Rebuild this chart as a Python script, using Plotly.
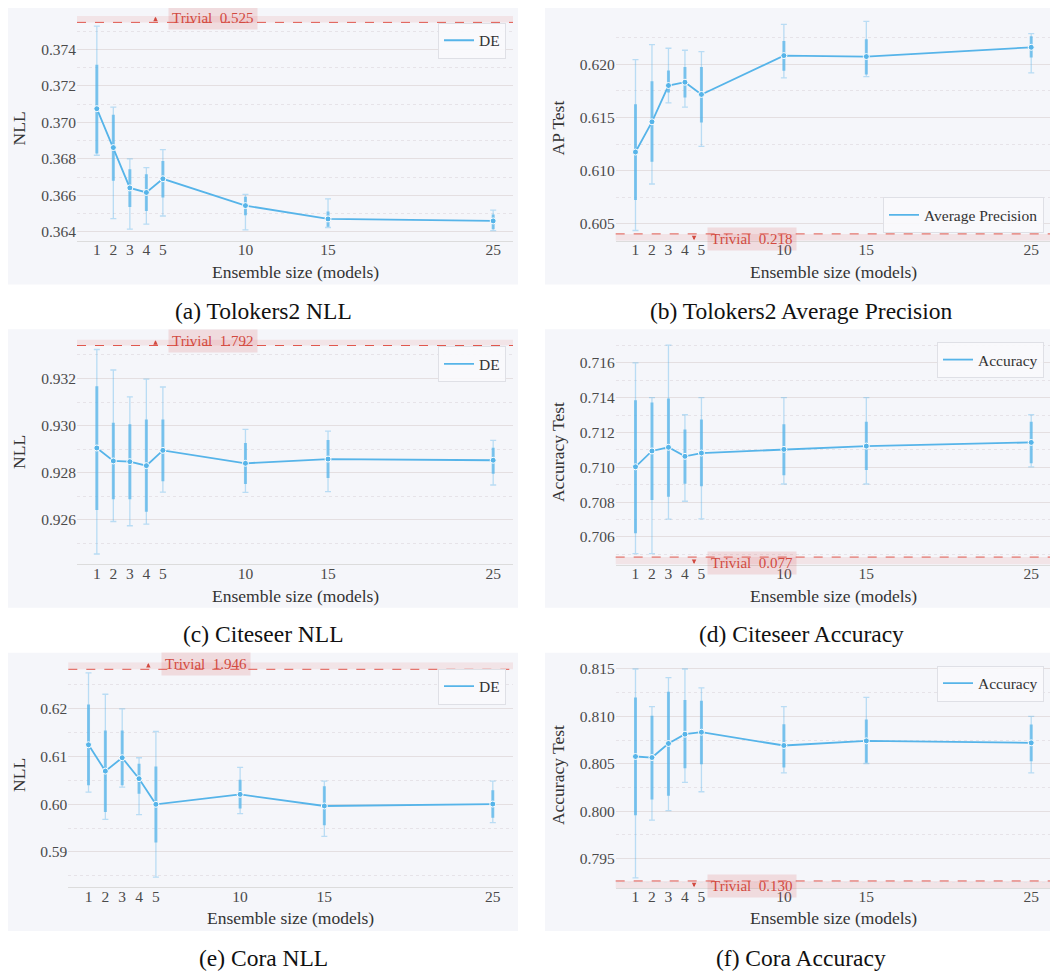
import plotly.graph_objects as go

# ---------------- data ----------------
sizes = [1, 2, 3, 4, 5, 10, 15, 25]
size_labels = ["1", "2", "3", "4", "5", "10", "15", "25"]

# (a) Tolokers2 NLL
a_mean = [0.37075, 0.36862, 0.36641, 0.36616, 0.36691, 0.36544, 0.36471, 0.36460]
a_thick_lo = [0.36829, 0.36680, 0.36537, 0.36514, 0.36588, 0.36491, 0.36428, 0.36415]
a_thick_hi = [0.37316, 0.37042, 0.36743, 0.36716, 0.36789, 0.36592, 0.36511, 0.36495]
a_whisk_lo = [0.36820, 0.36473, 0.36415, 0.36443, 0.36487, 0.36411, 0.36424, 0.36407]
a_whisk_hi = [0.37528, 0.37084, 0.36800, 0.36752, 0.36851, 0.36606, 0.36581, 0.36519]
a_yticks = [0.364, 0.366, 0.368, 0.370, 0.372, 0.374]

# (b) Tolokers2 Average Precision
b_mean = [0.61175, 0.61459, 0.61800, 0.61831, 0.61716, 0.62081, 0.62072, 0.62159]
b_thick_lo = [0.60725, 0.61084, 0.61734, 0.61688, 0.61453, 0.61938, 0.61903, 0.62063]
b_thick_hi = [0.61625, 0.61841, 0.61941, 0.61975, 0.61975, 0.62219, 0.62234, 0.62263]
b_whisk_lo = [0.60438, 0.60875, 0.61637, 0.61597, 0.61228, 0.61872, 0.61884, 0.61919]
b_whisk_hi = [0.62044, 0.62184, 0.62150, 0.62131, 0.62119, 0.62375, 0.62403, 0.62288]
b_yticks = [0.605, 0.610, 0.615, 0.620]

# (c) Citeseer NLL
c_mean = [0.92905, 0.92850, 0.92847, 0.92830, 0.92895, 0.92840, 0.92858, 0.92853]
c_thick_lo = [0.92642, 0.92688, 0.92688, 0.92634, 0.92764, 0.92752, 0.92778, 0.92796]
c_thick_hi = [0.93167, 0.93012, 0.93006, 0.93026, 0.93026, 0.92926, 0.92939, 0.92906]
c_whisk_lo = [0.92455, 0.92593, 0.92575, 0.92582, 0.92718, 0.92717, 0.92720, 0.92748]
c_whisk_hi = [0.93323, 0.93236, 0.93122, 0.93197, 0.93164, 0.92984, 0.92977, 0.92937]
c_yticks = [0.926, 0.928, 0.930, 0.932]

# (d) Citeseer Accuracy
d_mean = [0.71003, 0.71094, 0.71115, 0.71063, 0.71082, 0.71103, 0.71122, 0.71143]
d_thick_lo = [0.70621, 0.70812, 0.70831, 0.70906, 0.70891, 0.70954, 0.70985, 0.71023]
d_thick_hi = [0.71386, 0.71373, 0.71396, 0.71218, 0.71275, 0.71248, 0.71262, 0.71262]
d_whisk_lo = [0.70504, 0.70504, 0.70702, 0.70805, 0.70704, 0.70904, 0.70904, 0.71003]
d_whisk_hi = [0.71600, 0.71401, 0.71702, 0.71302, 0.71401, 0.71401, 0.71401, 0.71302]
d_yticks = [0.706, 0.708, 0.710, 0.712, 0.714, 0.716]

# (e) Cora NLL
e_mean = [0.61246, 0.60694, 0.60974, 0.60535, 0.59997, 0.60206, 0.59962, 0.60003]
e_thick_lo = [0.60395, 0.59836, 0.60395, 0.60221, 0.59195, 0.59907, 0.59558, 0.59718]
e_thick_hi = [0.62090, 0.61546, 0.61546, 0.60849, 0.60792, 0.60514, 0.60374, 0.60290]
e_whisk_lo = [0.60255, 0.59683, 0.60359, 0.59781, 0.58469, 0.59802, 0.59327, 0.59614]
e_whisk_hi = [0.62753, 0.62306, 0.62000, 0.60974, 0.61525, 0.60771, 0.60485, 0.60485]
e_yticks = [0.59, 0.60, 0.61, 0.62]

# (f) Cora Accuracy
f_mean = [0.80577, 0.80566, 0.80714, 0.80812, 0.80833, 0.80693, 0.80742, 0.80721]
f_thick_lo = [0.79956, 0.80124, 0.80163, 0.80454, 0.80496, 0.80461, 0.80510, 0.80527]
f_thick_hi = [0.81198, 0.81008, 0.81261, 0.81174, 0.81166, 0.80917, 0.80966, 0.80914]
f_whisk_lo = [0.79296, 0.79905, 0.80005, 0.80303, 0.80205, 0.80405, 0.80503, 0.80405]
f_whisk_hi = [0.81500, 0.81103, 0.81408, 0.81500, 0.81300, 0.81103, 0.81201, 0.81001]
f_yticks = [0.795, 0.800, 0.805, 0.810, 0.815]

trivial_labels = ["Trivial  0.525", "Trivial  0.218", "Trivial  1.792",
                  "Trivial  0.077", "Trivial  1.946", "Trivial  0.130"]
captions = ["(a) Tolokers2 NLL", "(b) Tolokers2 Average Precision",
            "(c) Citeseer NLL", "(d) Citeseer Accuracy",
            "(e) Cora NLL", "(f) Cora Accuracy"]
y_titles = ["NLL", "AP Test", "NLL", "Accuracy Test", "NLL", "Accuracy Test"]
series_names = ["DE", "Average Precision", "DE", "Accuracy", "DE", "Accuracy"]
x_title = "Ensemble size (models)"

# ---------------- style / layout ----------------
# the page body has an 8px margin, so the figure is placed at (8, 8)
OFF = 8
W, H = 1058 - OFF, 975 - OFF
def fx(px):
    return (px - OFF) / W
def fy(py):
    return 1 - (py - OFF) / H

BLUE = "#56b4e9"
RED = "#d24a40"
PANEL_BG = "#f5f6fa"
GRID = "#e4dfe1"
MINOR_GRID = "#e6e3e8"
SERIF = "Liberation Serif"
TICK_FONT = dict(family=SERIF, size=15.5, color="#4a4a4a")
TITLE_FONT = dict(family=SERIF, size=17.5, color="#333333")

panels = [
    dict(mean=a_mean, tlo=a_thick_lo, thi=a_thick_hi, wlo=a_whisk_lo, whi=a_whisk_hi,
         yticks=a_yticks, fmt=".3f", minor=(0.363, 0.002),
         yr=[0.36351, 0.37583], dash=0.37548, top=True,
         px=(77, 513), py=(14, 239.3), bg=(8, 4, 518, 283),
         leg=dict(x=506, y=20.7, anchor="top"), ytx=19, cap=(263, 310), xt=269.3),
    dict(mean=b_mean, tlo=b_thick_lo, thi=b_thick_hi, wlo=b_whisk_lo, whi=b_whisk_hi,
         yticks=b_yticks, fmt=".3f", minor=(0.6025, 0.005),
         yr=[0.60341, 0.62453], dash=0.60406, top=False,
         px=(615.7, 1051), py=(14, 239.3), bg=(545, 4, 1060, 283),
         leg=dict(x=1044, y=231.7, anchor="bottom"), ytx=558, cap=(801, 310), xt=269.3),
    dict(mean=c_mean, tlo=c_thick_lo, thi=c_thick_hi, wlo=c_whisk_lo, whi=c_whisk_hi,
         yticks=c_yticks, fmt=".3f", minor=(0.925, 0.002),
         yr=[0.92412, 0.93365], dash=0.93340, top=True,
         px=(77, 513), py=(338.3, 563.3), bg=(8, 328, 518, 607),
         leg=dict(x=506, y=345, anchor="top"), ytx=19, cap=(263, 633), xt=594),
    dict(mean=d_mean, tlo=d_thick_lo, thi=d_thick_hi, wlo=d_whisk_lo, whi=d_whisk_hi,
         yticks=d_yticks, fmt=".3f", minor=(0.705, 0.002),
         yr=[0.70441, 0.71734], dash=0.70484, top=False,
         px=(615.7, 1051), py=(338.3, 563.7), bg=(545, 328, 1060, 607),
         leg=dict(x=1044, y=340.7, anchor="top"), ytx=558, cap=(801, 633), xt=594),
    dict(mean=e_mean, tlo=e_thick_lo, thi=e_thick_hi, wlo=e_whisk_lo, whi=e_whisk_hi,
         yticks=e_yticks, fmt=".2f", minor=(0.585, 0.01),
         yr=[0.58253, 0.62975], dash=0.62829, top=True,
         px=(68.3, 513), py=(661.7, 887.3), bg=(8, 652, 518, 931),
         leg=dict(x=506, y=668, anchor="top"), ytx=19, cap=(263, 958), xt=917),
    dict(mean=f_mean, tlo=f_thick_lo, thi=f_thick_hi, wlo=f_whisk_lo, whi=f_whisk_hi,
         yticks=f_yticks, fmt=".3f", minor=(0.7925, 0.005),
         yr=[0.79191, 0.81570], dash=0.79264, top=False,
         px=(615.7, 1051), py=(661.7, 887.7), bg=(545, 652, 1060, 931),
         leg=dict(x=1044, y=665, anchor="top"), ytx=558, cap=(801, 958), xt=917),
]

fig = go.Figure()
shapes = []
annotations = []
layout_axes = {}
legends = {}

for i, p in enumerate(panels):
    n = "" if i == 0 else str(i + 1)
    xa, ya = "x" + n, "y" + n
    legname = "legend" + n

    # panel background
    x0, y0, x1, y1 = p["bg"]
    shapes.append(dict(type="rect", xref="paper", yref="paper",
                       x0=fx(x0), x1=fx(x1), y0=fy(y1), y1=fy(y0),
                       fillcolor=PANEL_BG, line=dict(width=0), layer="below"))
    # trivial band + dashed line
    yedge = p["yr"][1] if p["top"] else p["yr"][0]
    shapes.append(dict(type="rect", xref=xa + " domain", yref=ya,
                       x0=0, x1=1, y0=p["dash"], y1=yedge,
                       fillcolor="rgba(220,70,70,0.10)", line=dict(width=0), layer="below"))
    shapes.append(dict(type="line", xref=xa + " domain", yref=ya,
                       x0=0, x1=1, y0=p["dash"], y1=p["dash"],
                       line=dict(color="#e0574d", width=1, dash="dash"), layer="above"))

    m = p["mean"]
    # whiskers
    fig.add_trace(go.Scatter(
        x=sizes, y=m, mode="markers", xaxis=xa, yaxis=ya,
        marker=dict(size=1, color="rgba(0,0,0,0)"), showlegend=False, hoverinfo="skip",
        error_y=dict(type="data", symmetric=False,
                     array=[h - v for h, v in zip(p["whi"], m)],
                     arrayminus=[v - l for l, v in zip(p["wlo"], m)],
                     color="rgba(86,180,233,0.38)", thickness=1.3, width=3)))
    # thick bars
    fig.add_trace(go.Scatter(
        x=sizes, y=m, mode="markers", xaxis=xa, yaxis=ya,
        marker=dict(size=1, color="rgba(0,0,0,0)"), showlegend=False, hoverinfo="skip",
        error_y=dict(type="data", symmetric=False,
                     array=[h - v for h, v in zip(p["thi"], m)],
                     arrayminus=[v - l for l, v in zip(p["tlo"], m)],
                     color="rgba(86,180,233,0.72)", thickness=3, width=0)))
    # mean line (legend shows the line only)
    fig.add_trace(go.Scatter(
        x=sizes, y=m, mode="lines", xaxis=xa, yaxis=ya, name=series_names[i],
        legend=legname, showlegend=True, hoverinfo="skip",
        line=dict(color=BLUE, width=1.8)))
    fig.add_trace(go.Scatter(
        x=sizes, y=m, mode="markers", xaxis=xa, yaxis=ya, name=series_names[i],
        showlegend=False,
        marker=dict(size=6, color=BLUE, line=dict(color="white", width=1))))

    # axes
    layout_axes["xaxis" + n] = dict(
        domain=[fx(p["px"][0]), fx(p["px"][1])], range=[-0.2, 26.2], anchor=ya,
        tickvals=sizes, ticktext=size_labels, showgrid=False, zeroline=False,
        showline=True, linecolor="#dcdcdc", linewidth=1, ticks="",
        ticklabelstandoff=-5,
        tickfont=TICK_FONT, fixedrange=True)
    layout_axes["yaxis" + n] = dict(
        domain=[fy(p["py"][1]), fy(p["py"][0])], range=p["yr"], anchor=xa,
        tickvals=p["yticks"], tickformat=p["fmt"], showgrid=True, gridcolor=GRID,
        gridwidth=1, zeroline=False, showline=False, ticks="",
        tickfont=TICK_FONT, fixedrange=True,
        minor=dict(tick0=p["minor"][0], dtick=p["minor"][1], showgrid=True,
                   gridcolor=MINOR_GRID, griddash="dot", gridwidth=1, ticks=""))

    # legend
    lg = p["leg"]
    legends[legname] = dict(
        x=fx(lg["x"]), y=fy(lg["y"]), xanchor="right", yanchor=lg["anchor"],
        xref="paper", yref="paper",
        bgcolor="rgba(250,250,252,0.9)", bordercolor="#dfe0e6", borderwidth=1,
        font=dict(family=SERIF, size=15.5, color="#333333"),
        itemwidth=30, tracegroupgap=0)

    # axis titles
    cy = (p["py"][0] + p["py"][1]) / 2
    annotations.append(dict(text=y_titles[i], xref="paper", yref="paper",
                            x=fx(p["ytx"]), y=fy(cy), showarrow=False, textangle=-90,
                            font=TITLE_FONT, xanchor="center", yanchor="middle"))
    cx = (p["px"][0] + p["px"][1]) / 2
    annotations.append(dict(text=x_title, xref="paper", yref="paper",
                            x=fx(cx), y=fy(p["xt"] + 1), showarrow=False,
                            font=TITLE_FONT, xanchor="center", yanchor="middle"))
    # caption
    annotations.append(dict(text=captions[i], xref="paper", yref="paper",
                            x=fx(p["cap"][0]), y=fy(p["cap"][1]), showarrow=False,
                            font=dict(family=SERIF, size=23.5, color="#111111"),
                            xanchor="center", yanchor="middle"))
    # trivial label
    ty = 0.992 if p["top"] else 0.008
    lx = 0.309 if i == 4 else 0.312
    annotations.append(dict(text=trivial_labels[i], xref=xa + " domain", yref=ya + " domain",
                            x=lx, y=ty, showarrow=False,
                            font=dict(family=SERIF, size=15, color=RED),
                            bgcolor="rgba(220,80,80,0.16)", borderpad=3,
                            xanchor="center", yanchor="middle"))
    # small off-scale arrow marker
    annotations.append(dict(text="", xref=xa + " domain", yref=ya + " domain",
                            x=0.18, y=(0.997 if p["top"] else 0.003),
                            ax=0, ay=(4 if p["top"] else -4), axref="pixel", ayref="pixel",
                            showarrow=True, arrowhead=2, arrowsize=0.6, arrowwidth=1.5,
                            arrowcolor=RED))

fig.update_layout(
    width=W, height=H, margin=dict(l=0, r=0, t=0, b=0),
    paper_bgcolor="white", plot_bgcolor="rgba(0,0,0,0)",
    shapes=shapes, annotations=annotations, **layout_axes, **legends,
)

fig.write_html("out.html")
